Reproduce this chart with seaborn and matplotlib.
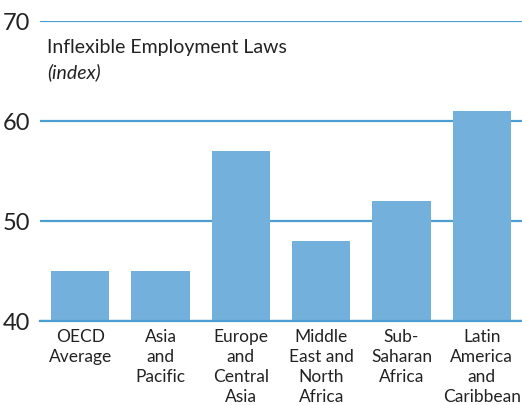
import matplotlib
matplotlib.use("Agg")
import matplotlib.pyplot as plt
import seaborn as sns
import pandas as pd

categories = ["OECD\nAverage", "Asia\nand\nPacific", "Europe\nand\nCentral\nAsia",
              "Middle\nEast and\nNorth\nAfrica", "Sub-\nSaharan\nAfrica",
              "Latin\nAmerica\nand\nCaribbean"]
values = [45, 45, 57, 48, 52, 61]
y_ticks = [40, 50, 60, 70]

sns.set_theme(style="white")
plt.rcParams["font.family"] = ["Lato", "DejaVu Sans"]

bar_color = "#74B0DC"
line_color = "#4A9FD0"
text_color = "#222222"

df = pd.DataFrame({"region": categories, "value": values})

fig = plt.figure(figsize=(5.22, 4.06), dpi=100)
ax = fig.add_axes([40 / 522, 84 / 406, 482 / 522, 300 / 406])

sns.barplot(data=df, x="region", y="value", color=bar_color, saturation=1,
            width=0.73, linewidth=0, ax=ax, zorder=2)

ax.set_ylim(40, 70)
ax.set_xlim(-0.5, 5.5)
ax.set_yticks(y_ticks)
ax.set_yticklabels([str(t) for t in y_ticks], fontsize=17, color=text_color)
ax.yaxis.grid(True, color=line_color, linewidth=1.6, zorder=0)
ax.set_axisbelow(True)
ax.tick_params(axis="y", length=0, pad=7)

ax.set_xticks(range(len(categories)))
ax.set_xticklabels(categories, fontsize=12.5, color=text_color, linespacing=1.3)
ax.tick_params(axis="x", which="major", length=0, pad=5)
ax.set_xticks([i - 0.5 for i in range(len(categories))], minor=True)
ax.tick_params(axis="x", which="minor", direction="in", length=5,
               width=1.2, color=line_color)

for side in ["top", "right", "left"]:
    ax.spines[side].set_visible(False)
ax.spines["bottom"].set_color(line_color)
ax.spines["bottom"].set_linewidth(1.6)

ax.set_xlabel("")
ax.set_ylabel("")

fig.text(47 / 522, 1 - 48 / 406, "Inflexible Employment Laws", fontsize=14,
         color=text_color, va="center", ha="left")
fig.text(47 / 522, 1 - 72 / 406, "(index)", fontsize=14, style="italic",
         color=text_color, va="center", ha="left")

fig.savefig("out.png", dpi=100)
